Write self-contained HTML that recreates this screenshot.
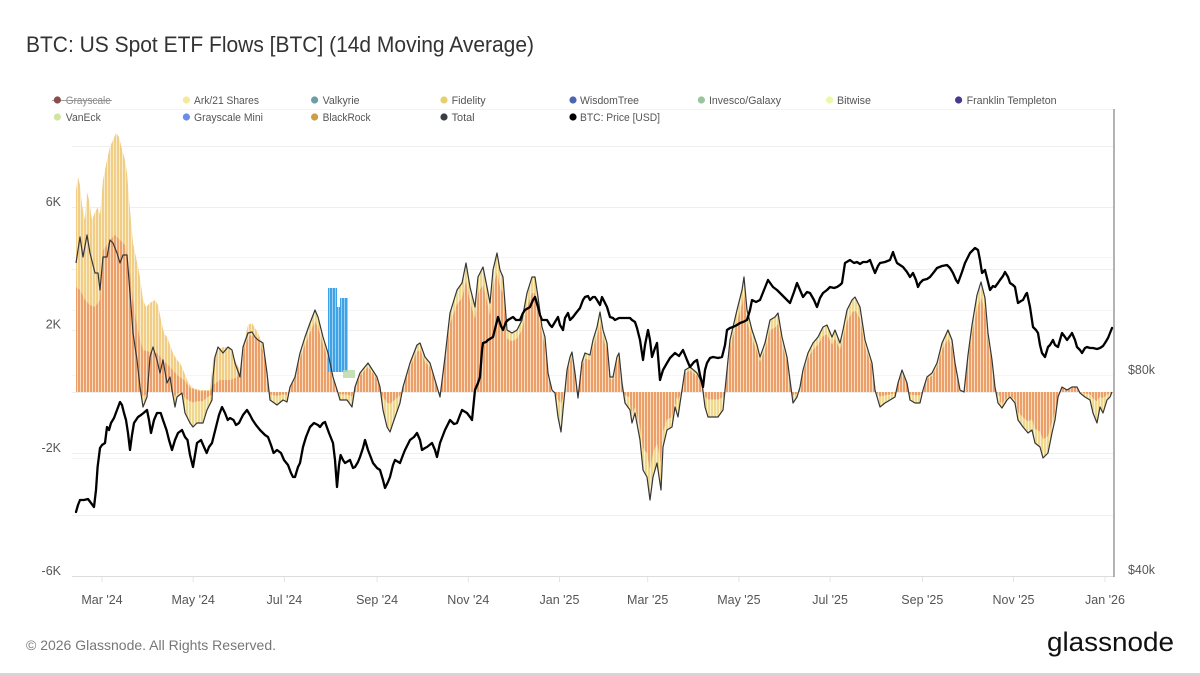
<!DOCTYPE html>
<html><head><meta charset="utf-8"><style>html,body{margin:0;padding:0;background:#fff;}svg{display:block;}</style></head>
<body>
<svg width="1200" height="675" viewBox="0 0 1200 675" xmlns="http://www.w3.org/2000/svg" xmlns:xlink="http://www.w3.org/1999/xlink" font-family="'Liberation Sans', Arial, sans-serif">
<defs>
<pattern id="po" patternUnits="userSpaceOnUse" width="3" height="10"><rect width="3" height="10" fill="#f8dcc0"/><rect width="2" height="10" fill="#ec9f69"/></pattern>
<pattern id="py" patternUnits="userSpaceOnUse" width="3" height="10"><rect width="3" height="10" fill="#f9f0cc"/><rect width="2" height="10" fill="#efd88e"/></pattern>
<pattern id="pye" patternUnits="userSpaceOnUse" width="3" height="10"><rect width="3" height="10" fill="#f9eccb"/><rect width="2" height="10" fill="#f1cd86"/></pattern>
<pattern id="pb" patternUnits="userSpaceOnUse" width="3" height="10"><rect width="3" height="10" fill="#9ad0f4"/><rect width="2" height="10" fill="#3fa2e6"/></pattern>
<polygon id="totArea" points="76,392 76,263 80,237 83,257 87,235 90,253 95,273 98,273 100,290 103,257 107,257 110,240 113,243 117,253 120,263 123,255 127,255 130,293 133,333 137,360 140,387 143,407 147,397 150,357 153,347 157,360 160,373 163,360 167,383 170,377 172,390 175,407 177,397 182,393 185,413 190,423 193,427 197,423 203,423 207,410 212,400 213,377 215,357 218,347 223,353 228,347 232,350 235,363 240,377 243,347 248,333 252,332 255,337 258,340 263,343 267,373 270,400 277,405 283,400 287,402 290,387 295,377 300,353 305,337 310,323 315,310 318,317 323,337 328,353 333,377 338,393 340,400 347,400 352,407 355,387 360,373 368,363 377,377 380,387 383,410 387,427 390,432 393,423 400,403 403,387 410,363 417,345 420,343 425,357 430,363 435,380 440,397 445,357 450,313 457,290 462,283 466,263 470,287 475,307 478,277 483,267 487,287 490,303 493,270 497,253 500,270 503,277 507,330 512,333 517,330 522,320 527,293 532,277 535,277 538,297 542,327 545,337 548,373 552,390 555,393 558,417 561,432 563,410 567,370 570,357 572,352 575,373 578,398 582,362 585,353 590,355 593,340 597,327 600,312 603,330 607,343 610,377 613,377 617,357 619,353 622,383 625,403 630,410 632,423 635,413 640,440 643,470 647,477 650,500 653,477 657,463 661,490 663,447 667,430 672,427 675,407 678,417 682,390 685,370 690,367 697,373 702,383 705,407 708,417 713,417 718,417 723,410 727,370 730,340 733,327 737,310 742,290 744,277 747,310 752,330 757,345 760,357 765,343 770,320 775,317 778,313 782,337 787,357 790,380 793,403 797,397 800,387 803,370 808,353 813,343 818,337 823,327 827,325 832,337 835,330 840,343 843,330 847,310 852,300 855,297 860,307 865,340 868,350 872,363 875,390 880,407 885,403 890,400 895,397 898,383 902,370 907,383 910,400 915,403 920,403 923,390 927,377 932,373 937,363 942,343 948,330 952,340 955,363 960,390 964,392 968,355 972,325 977,295 981,282 985,298 988,333 992,360 995,387 998,403 1002,408 1007,400 1010,397 1015,403 1018,420 1023,427 1028,433 1032,430 1035,443 1040,447 1043,458 1048,453 1052,433 1055,420 1058,397 1062,387 1067,390 1072,387 1077,387 1080,393 1085,397 1090,400 1093,413 1097,423 1100,407 1103,413 1107,400 1110,397 1112,392 1112,392"/>
<clipPath id="cPos"><rect x="262" y="0" width="860" height="392"/></clipPath>
<clipPath id="cNeg"><rect x="60" y="392" width="1060" height="200"/></clipPath>
<clipPath id="cNegW"><rect x="60" y="392" width="570" height="200"/><rect x="676" y="392" width="324" height="200"/><rect x="1062" y="392" width="60" height="200"/></clipPath>
<clipPath id="cNegS"><rect x="630" y="392" width="46" height="200"/><rect x="1000" y="392" width="62" height="200"/></clipPath>
</defs>

<rect width="1200" height="675" fill="#fff"/>

<!-- Title -->
<text x="26" y="52" font-size="22" fill="#333" textLength="508" lengthAdjust="spacingAndGlyphs">BTC: US Spot ETF Flows [BTC] (14d Moving Average)</text>

<!-- Legend -->
<g font-size="11" fill="#555">
<line x1="52" y1="100.5" x2="112" y2="100.5" stroke="#a0a0a0" stroke-width="1"/>
<circle cx="57.4" cy="100" r="3.6" fill="#8a4d4d"/>
<text x="65.8" y="104" textLength="45" lengthAdjust="spacingAndGlyphs" fill="#8a8a8a">Grayscale</text>
<circle cx="186.4" cy="100" r="3.6" fill="#f3eb9a"/>
<text x="194" y="104" textLength="65" lengthAdjust="spacingAndGlyphs">Ark/21 Shares</text>
<circle cx="314.6" cy="100" r="3.6" fill="#6a9fa6"/>
<text x="322.6" y="104" textLength="37" lengthAdjust="spacingAndGlyphs">Valkyrie</text>
<circle cx="444" cy="100" r="3.6" fill="#e6cf6e"/>
<text x="451.6" y="104" textLength="34" lengthAdjust="spacingAndGlyphs">Fidelity</text>
<circle cx="573" cy="100" r="3.6" fill="#4a66b0"/>
<text x="580" y="104" textLength="59" lengthAdjust="spacingAndGlyphs">WisdomTree</text>
<circle cx="701.4" cy="100" r="3.6" fill="#9cc49c"/>
<text x="709" y="104" textLength="72" lengthAdjust="spacingAndGlyphs">Invesco/Galaxy</text>
<circle cx="829.6" cy="100" r="3.6" fill="#eef7a8"/>
<text x="837" y="104" textLength="34" lengthAdjust="spacingAndGlyphs">Bitwise</text>
<circle cx="958.6" cy="100" r="3.6" fill="#453a91"/>
<text x="966.6" y="104" textLength="90" lengthAdjust="spacingAndGlyphs">Franklin Templeton</text>

<circle cx="57.4" cy="117" r="3.6" fill="#cfe5a0"/>
<text x="65.8" y="121" textLength="35" lengthAdjust="spacingAndGlyphs">VanEck</text>
<circle cx="186.4" cy="117" r="3.6" fill="#6b8ce8"/>
<text x="194" y="121" textLength="69" lengthAdjust="spacingAndGlyphs">Grayscale Mini</text>
<circle cx="314.6" cy="117" r="3.6" fill="#cc9f45"/>
<text x="322.6" y="121" textLength="48" lengthAdjust="spacingAndGlyphs">BlackRock</text>
<circle cx="444" cy="117" r="3.6" fill="#3a3d45"/>
<text x="451.6" y="121" textLength="23" lengthAdjust="spacingAndGlyphs">Total</text>
<circle cx="573" cy="117" r="3.6" fill="#000"/>
<text x="580" y="121" textLength="80" lengthAdjust="spacingAndGlyphs">BTC: Price [USD]</text>
</g>

<!-- Grid -->
<g stroke="#efefef" stroke-width="1">
<line x1="72" y1="109.5" x2="1113" y2="109.5" stroke="#f4f4f4"/>
<line x1="72" y1="146.5" x2="1113" y2="146.5"/>
<line x1="72" y1="207.5" x2="1113" y2="207.5"/>
<line x1="72" y1="269.5" x2="1113" y2="269.5"/>
<line x1="72" y1="330.5" x2="1113" y2="330.5"/>
<line x1="72" y1="392.5" x2="1113" y2="392.5"/>
<line x1="72" y1="453.5" x2="1113" y2="453.5"/>
<line x1="72" y1="515.5" x2="1113" y2="515.5"/>
<line x1="72" y1="257.5" x2="1113" y2="257.5" stroke="#f5f5f5"/>
<line x1="72" y1="310.5" x2="1113" y2="310.5" stroke="#f5f5f5"/>
<line x1="72" y1="375.5" x2="1113" y2="375.5" stroke="#f5f5f5"/>
<line x1="72" y1="458.5" x2="1113" y2="458.5" stroke="#f5f5f5"/>
</g>
<line x1="72" y1="576.5" x2="1114" y2="576.5" stroke="#dcdcdc" stroke-width="1"/>
<g stroke="#e4e4e4" stroke-width="1">
<line x1="102" y1="577" x2="102" y2="582"/><line x1="193.2" y1="577" x2="193.2" y2="582"/><line x1="284.4" y1="577" x2="284.4" y2="582"/><line x1="377.1" y1="577" x2="377.1" y2="582"/><line x1="468.3" y1="577" x2="468.3" y2="582"/><line x1="559.5" y1="577" x2="559.5" y2="582"/><line x1="647.7" y1="577" x2="647.7" y2="582"/><line x1="738.9" y1="577" x2="738.9" y2="582"/><line x1="830.1" y1="577" x2="830.1" y2="582"/><line x1="922.5" y1="577" x2="922.5" y2="582"/><line x1="1013.5" y1="577" x2="1013.5" y2="582"/><line x1="1105" y1="577" x2="1105" y2="582"/>
</g>

<!-- Bars: late positive -->
<use href="#totArea" xlink:href="#totArea" fill="url(#py)" clip-path="url(#cPos)"/>
<g clip-path="url(#cPos)"><use href="#totArea" xlink:href="#totArea" fill="url(#po)" transform="translate(0,392) scale(1,0.86) translate(0,-392)"/></g>
<!-- negative -->
<use href="#totArea" xlink:href="#totArea" fill="url(#py)" clip-path="url(#cNeg)"/>
<g clip-path="url(#cNegW)"><use href="#totArea" xlink:href="#totArea" fill="url(#po)" transform="translate(0,392) scale(1,0.3) translate(0,-392)"/></g>
<g clip-path="url(#cNegS)"><use href="#totArea" xlink:href="#totArea" fill="url(#po)" transform="translate(0,392) scale(1,0.72) translate(0,-392)"/></g>

<!-- early stack -->
<polygon fill="url(#pye)" points="76,392 76,190 78,177 80,185 82,205 85,220 87,192 89,200 92,220 95,212 98,207 100,215 103,180 107,160 110,147 113,140 116,133 119,137 121,145 123,153 125,160 127,173 130,210 133,243 137,262 140,277 143,300 146,307 150,303 155,300 158,305 161,320 164,333 167,337 170,345 173,353 177,360 180,363 184,372 187,380 190,385 193,388 200,390 210,390 213,360 217,350 223,347 230,348 235,360 240,370 243,347 248,325 252,323 258,333 262,342 262,392"/>
<polygon fill="url(#po)" points="76,392 76,287 80,290 85,300 90,305 95,307 100,300 103,250 107,245 110,240 115,235 120,240 125,245 128,260 130,273 133,300 136,320 140,340 143,350 150,352 157,353 163,360 170,367 177,375 184,380 190,388 200,391 210,391 213,385 220,380 230,380 236,378 240,372 245,345 250,335 258,338 262,348 262,392"/>

<!-- Grayscale Mini -->
<rect x="328" y="288" width="9" height="84" fill="url(#pb)"/>
<rect x="337" y="307" width="3" height="65" fill="url(#pb)"/>
<rect x="340" y="298" width="8" height="74" fill="url(#pb)"/>
<rect x="343" y="370" width="12" height="8" fill="#b8d8a8" opacity="0.8"/>

<!-- Total line -->
<polyline fill="none" stroke="#363636" stroke-width="1.2" stroke-linejoin="round" points="76,263 80,237 83,257 87,235 90,253 95,273 98,273 100,290 103,257 107,257 110,240 113,243 117,253 120,263 123,255 127,255 130,293 133,333 137,360 140,387 143,407 147,397 150,357 153,347 157,360 160,373 163,360 167,383 170,377 172,390 175,407 177,397 182,393 185,413 190,423 193,427 197,423 203,423 207,410 212,400 213,377 215,357 218,347 223,353 228,347 232,350 235,363 240,377 243,347 248,333 252,332 255,337 258,340 263,343 267,373 270,400 277,405 283,400 287,402 290,387 295,377 300,353 305,337 310,323 315,310 318,317 323,337 328,353 333,377 338,393 340,400 347,400 352,407 355,387 360,373 368,363 377,377 380,387 383,410 387,427 390,432 393,423 400,403 403,387 410,363 417,345 420,343 425,357 430,363 435,380 440,397 445,357 450,313 457,290 462,283 466,263 470,287 475,307 478,277 483,267 487,287 490,303 493,270 497,253 500,270 503,277 507,330 512,333 517,330 522,320 527,293 532,277 535,277 538,297 542,327 545,337 548,373 552,390 555,393 558,417 561,432 563,410 567,370 570,357 572,352 575,373 578,398 582,362 585,353 590,355 593,340 597,327 600,312 603,330 607,343 610,377 613,377 617,357 619,353 622,383 625,403 630,410 632,423 635,413 640,440 643,470 647,477 650,500 653,477 657,463 661,490 663,447 667,430 672,427 675,407 678,417 682,390 685,370 690,367 697,373 702,383 705,407 708,417 713,417 718,417 723,410 727,370 730,340 733,327 737,310 742,290 744,277 747,310 752,330 757,345 760,357 765,343 770,320 775,317 778,313 782,337 787,357 790,380 793,403 797,397 800,387 803,370 808,353 813,343 818,337 823,327 827,325 832,337 835,330 840,343 843,330 847,310 852,300 855,297 860,307 865,340 868,350 872,363 875,390 880,407 885,403 890,400 895,397 898,383 902,370 907,383 910,400 915,403 920,403 923,390 927,377 932,373 937,363 942,343 948,330 952,340 955,363 960,390 964,392 968,355 972,325 977,295 981,282 985,298 988,333 992,360 995,387 998,403 1002,408 1007,400 1010,397 1015,403 1018,420 1023,427 1028,433 1032,430 1035,443 1040,447 1043,458 1048,453 1052,433 1055,420 1058,397 1062,387 1067,390 1072,387 1077,387 1080,393 1085,397 1090,400 1093,413 1097,423 1100,407 1103,413 1107,400 1110,397 1112,392"/>

<!-- Price line -->
<polyline fill="none" stroke="#000" stroke-width="2.3" stroke-linejoin="round" stroke-linecap="round" points="76,512 78,505 80,500 84,500 88,499 91,503 94,507 96,490 97.6,467 100,448 102,445 105,443 107,427 109,430 111,423 114,418 117,410 120,402 122,405 124,413 126,420 128,433 130,450 132,435 134,423 138,417 141,415 143.5,413 147,410 149,420 151,433 154,420 157,413 160.7,413 163,420 166.5,430 169,440 172,450 175,440 178,433 182,430 185,437 187.5,440 190,455 193,467 195,455 197,443 201,440 204,447 206.7,453 209,447 212,443 216,427 219,415 222,407 225,413 227.7,420 230,418 233.5,420 236,425 239,423 243,415 247,410 250,415 252.6,420 256,425 260,430 265,435 268,437 271,445 273.6,453 277,450 281,453 284,460 288,465 291,473 293,477 295,477 298,467 300,463 303,447 306,437 310,427 314,423 318,425 320,427 323,423 325,422 329,433 333,443 335,460 337,487 339,465 340.6,455 343,460 345,463 350,460 353,468 355,467 358,462 360,457 363,448 365,440 368,450 373,463 377,468 380,470 383,480 385,488 388,482 390,477 393,465 395,460 400,463 403,455 405,450 410,440 414,437 417,433 420,440 422,450 425,448 427,447 432,443 435,450 437,457 440,443 445,430 450,420 454,424 457,423 460,415 462,410 467,413 470,417 472,420 475,390 478,383 480,377 482,350 483,343 486,342 488,340 493,337 496,325 498,317 501,326 503,330 506,322 508,320 513,317 516,320 520,320 523,313 525,310 530,307 533,300 535,297 538,307 540,315 542,320 547,320 550,325 552,327 555,322 558,317 560,325 563,330 565,318 568,313 570,320 573,317 576,313 580,308 583,300 585,297 588,296 590,300 593,297 595,297 597,300 600,305 602,297 605,303 607,307 610,317 613,318 615,320 619,318 623,318 627,318 630,318 632,320 635,322 637,328 640,340 643,360 645,345 648,330 650,340 652,357 655,348 657,343 660,380 663,370 667,363 670,358 675,353 679,356 683,350 687,360 690,367 694,362 697,360 700,375 703,387 705,370 707,363 710,358 713,357 718,358 722,357 725,345 727,330 730,328 733,327 737,325 740,323 743,322 747,320 750,310 752,300 756,302 760,300 764,290 768,280 773,287 777,290 780,293 785,298 790,303 794,292 797,283 800,290 803,297 807,292 810,293 814,300 817,307 820,298 823,293 827,290 830,287 834,288 837,287 840,285 842,283 845,263 850,260 854,263 857,262 860,264 863,262 867,262 870,260 873,268 875,273 878,266 880,263 885,262 890,260 893,252 895,258 897,263 900,265 903,267 907,272 910,277 913,273 916,280 918,287 920,283 923,280 927,279 930,277 934,272 937,268 942,266 947,265 950,268 953,273 956,280 958,283 962,272 965,263 968,257 970,253 973,250 975,248 978,250 980,260 982,273 985,270 988,282 990,290 993,286 995,287 998,283 1000,280 1003,276 1005,272 1008,277 1010,283 1013,285 1015,287 1017,298 1018,303 1021,301 1023,300 1026,294 1027,293 1030,307 1033,327 1036,330 1038,333 1040,345 1042,353 1045,357 1048,347 1050,345 1053,340 1055,345 1058,347 1060,340 1062,333 1065,337 1067,340 1070,336 1072,333 1075,340 1077,347 1080,350 1082,353 1085,348 1087,347 1090,348 1093,348 1097,349 1100,348 1103,346 1105,343 1108,338 1110,333 1112,328"/>

<!-- Right axis -->
<line x1="1114" y1="109" x2="1114" y2="577" stroke="#9a9a9a" stroke-width="1.5"/>

<!-- Axis labels -->
<g font-size="12.5" fill="#555">
<text x="61" y="206" text-anchor="end">6K</text>
<text x="61" y="328.5" text-anchor="end">2K</text>
<text x="61" y="452" text-anchor="end">-2K</text>
<text x="61" y="575" text-anchor="end">-6K</text>
<text x="1128" y="374" textLength="27" lengthAdjust="spacingAndGlyphs">$80k</text>
<text x="1128" y="574" textLength="27" lengthAdjust="spacingAndGlyphs">$40k</text>
</g>
<g font-size="12.5" fill="#555" text-anchor="middle">
<text x="102" y="604">Mar '24</text>
<text x="193.2" y="604">May '24</text>
<text x="284.4" y="604">Jul '24</text>
<text x="377.1" y="604">Sep '24</text>
<text x="468.3" y="604">Nov '24</text>
<text x="559.5" y="604">Jan '25</text>
<text x="647.7" y="604">Mar '25</text>
<text x="738.9" y="604">May '25</text>
<text x="830.1" y="604">Jul '25</text>
<text x="922.3" y="604">Sep '25</text>
<text x="1013.5" y="604">Nov '25</text>
<text x="1105" y="604">Jan '26</text>
</g>

<!-- Footer -->
<text x="26" y="650" font-size="14" fill="#777" textLength="250" lengthAdjust="spacingAndGlyphs">© 2026 Glassnode. All Rights Reserved.</text>
<text x="1047" y="651" font-size="27" fill="#111" textLength="127" lengthAdjust="spacingAndGlyphs">glassnode</text>
<rect x="0" y="673" width="1200" height="2" fill="#d6d6d6"/>
</svg>
</body></html>
